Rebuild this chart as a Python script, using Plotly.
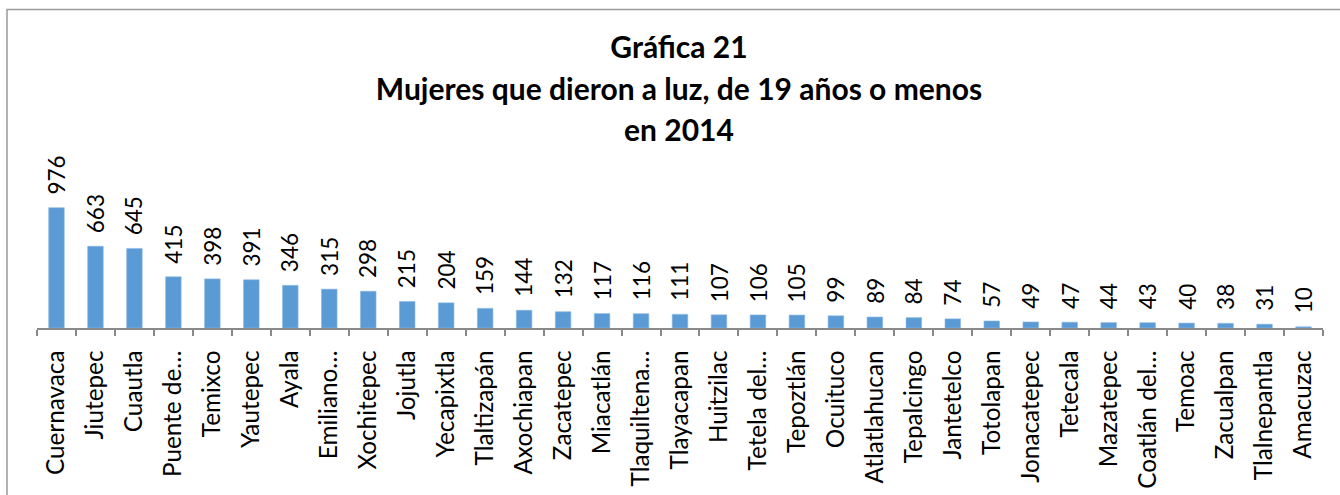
import plotly.graph_objects as go

municipios = ["Cuernavaca", "Jiutepec", "Cuautla", "Puente de…", "Temixco", "Yautepec", "Ayala",
              "Emiliano…", "Xochitepec", "Jojutla", "Yecapixtla", "Tlaltizapán", "Axochiapan",
              "Zacatepec", "Miacatlán", "Tlaquiltena…", "Tlayacapan", "Huitzilac", "Tetela del…",
              "Tepoztlán", "Ocuituco", "Atlatlahucan", "Tepalcingo", "Jantetelco", "Totolapan",
              "Jonacatepec", "Tetecala", "Mazatepec", "Coatlán del…", "Temoac", "Zacualpan",
              "Tlalnepantla", "Amacuzac"]
valores = [976, 663, 645, 415, 398, 391, 346, 315, 298, 215, 204, 159, 144, 132, 117, 116, 111,
           107, 106, 105, 99, 89, 84, 74, 57, 49, 47, 44, 43, 40, 38, 31, 10]

titulo = ["Gráfica 21", "Mujeres que dieron a luz, de 19 años o menos", "en 2014"]

FONT = "Lato"
W, H = 1340, 495
L, R, T, B = 37, 17, 180, 167

fig = go.Figure()
fig.add_trace(go.Bar(
    x=municipios, y=valores,
    marker=dict(color="#5B9BD5", line=dict(color="#8DB8E2", width=0.6)),
    hoverinfo="x+y",
))

for m, v in zip(municipios, valores):
    fig.add_annotation(x=m, y=v, text=str(v), textangle=-90, showarrow=False,
                       xanchor="center", yanchor="bottom", yshift=11,
                       font=dict(family=FONT, size=22.5, color="#000000"))

fig.update_layout(
    width=W, height=H,
    margin=dict(l=L, r=R, t=T, b=B),
    paper_bgcolor="white", plot_bgcolor="white",
    bargap=0.6,
    showlegend=False,
    title=dict(
        text="<br>".join(f"<span style='font-size:30px'>{t}</span>" for t in titulo),
        font=dict(family=FONT, size=32, color="#000000", weight="bold"),
        x=679 / W, xanchor="center", xref="container",
        y=1 - 58 / H, yanchor="top", yref="container",
    ),
    xaxis=dict(
        type="category", automargin=False,
        showline=True, linecolor="#898989", linewidth=1.5,
        ticks="outside", tickson="boundaries", ticklen=6, tickcolor="#898989", tickwidth=1.5,
        tickangle=-90, tickfont=dict(family=FONT, size=24.3, color="#000000"),
        ticklabelstandoff=11,
        showgrid=False,
    ),
    yaxis=dict(range=[0, 1200], visible=False, showgrid=False, zeroline=False),
)

# outer chart-area border
x0 = (7 - L) / (W - L - R)
x1 = (W + 5 - L) / (W - L - R)
ph = H - T - B
y1 = (H - B - 9.5) / ph
y0 = (H - B - (H + 5)) / ph
fig.add_shape(type="rect", xref="paper", yref="paper", x0=x0, x1=x1, y0=y0, y1=y1,
              line=dict(color="#9A9A9A", width=1.5), fillcolor="rgba(0,0,0,0)", layer="above")

fig.write_html("out.html", config={"displayModeBar": False},
               post_script="document.body.style.margin='0';")
